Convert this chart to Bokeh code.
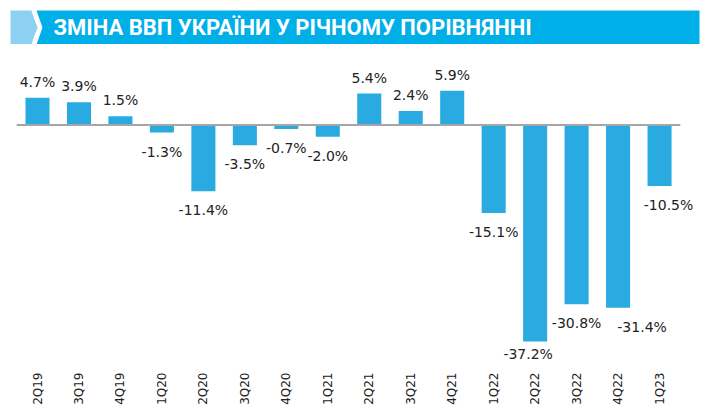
import math
from bokeh.plotting import figure
from bokeh.layouts import column
from bokeh.models import Range1d, ColumnDataSource, FixedTicker
from bokeh.core.properties import value
from bokeh.embed import file_html
from bokeh.resources import INLINE

# ---- data ----
categories = ["2Q19", "3Q19", "4Q19", "1Q20", "2Q20", "3Q20", "4Q20", "1Q21",
              "2Q21", "3Q21", "4Q21", "1Q22", "2Q22", "3Q22", "4Q22", "1Q23"]
gdp_change = [4.7, 3.9, 1.5, -1.3, -11.4, -3.5, -0.7, -2.0,
              5.4, 2.4, 5.9, -15.1, -37.2, -30.8, -31.4, -10.5]
title_text = "ЗМІНА ВВП УКРАЇНИ У РІЧНОМУ ПОРІВНЯННІ"

# label nudges (screen px) to mimic reference placement
label_dx = {"2Q22": -7, "4Q22": 24, "1Q23": 9}
label_dy = {"2Q22": -7}

BAR = "#29abe2"
BANNER = "#00aee8"
LIGHT = "#8dd0f2"
TXT = "#222222"

# ---- header banner ----
W = 704
head = figure(width=W, height=44, x_range=Range1d(0, W), y_range=Range1d(44, 0),
              toolbar_location=None, output_backend="svg", min_border=0,
              x_axis_location=None, y_axis_location=None)
head.grid.visible = False
head.outline_line_color = None
head.quad(left=[36], right=[699], top=[10], bottom=[44], color=BANNER, line_color=None)
head.patch([10, 31, 37, 31, 10], [10, 10, 27, 44, 44], color=LIGHT, line_color=None)
head.patch([31, 36, 42, 36, 31, 37], [10, 10, 27, 44, 44, 27], color="white", line_color=None)
head.text(x=[53], y=[26.5], text=[title_text], text_color="white",
          text_font=value("Roboto"), text_font_style="bold",
          text_font_size="22px", text_baseline="middle", text_align="left")

# ---- chart ----
n = len(categories)
xs = list(range(n))
px_per_unit = 41.47
x_start = -37 / px_per_unit
x_end = x_start + W / px_per_unit
px_per_pct = 5.82
frame_h = 322
y_top = 80.5 / px_per_pct
y_bot = y_top - frame_h / px_per_pct

p = figure(frame_width=W, frame_height=frame_h, x_range=Range1d(x_start, x_end),
           y_range=Range1d(y_bot, y_top), toolbar_location=None, output_backend="svg",
           min_border=0, y_axis_location=None)
p.grid.visible = False
p.outline_line_color = None

labels = [f"{v:.1f}%" for v in gdp_change]
dx = [label_dx.get(c, 0) for c in categories]
dy = [label_dy.get(c, 0) + (-16 if v >= 0 else 19) for c, v in zip(categories, gdp_change)]
src = ColumnDataSource(dict(x=xs, v=gdp_change, lab=labels, dx=dx, dy=dy))

p.vbar(x="x", top="v", bottom=0, width=0.58, source=src, color=BAR, line_color=None)
p.segment(x0=[-0.5], x1=[n - 0.5], y0=[0], y1=[0], line_color="#a6a6a6", line_width=1.8)
p.text(x="x", y="v", text="lab", x_offset="dx", y_offset="dy", source=src,
       text_align="center", text_baseline="middle", text_color=TXT,
       text_font=value("DejaVu Sans"), text_font_size="14px")

ax = p.xaxis[0]
ax.ticker = FixedTicker(ticks=xs)
ax.major_label_overrides = {i: c for i, c in enumerate(categories)}
ax.major_label_orientation = math.pi / 2
ax.axis_line_color = None
ax.major_tick_line_color = None
ax.minor_tick_line_color = None
ax.major_tick_out = 0
ax.major_label_standoff = 6
ax.major_label_text_font = "DejaVu Sans"
ax.major_label_text_font_size = "12px"
ax.major_label_text_color = TXT

layout = column(head, p, spacing=0)
open("out.html", "w").write(file_html(layout, INLINE))
